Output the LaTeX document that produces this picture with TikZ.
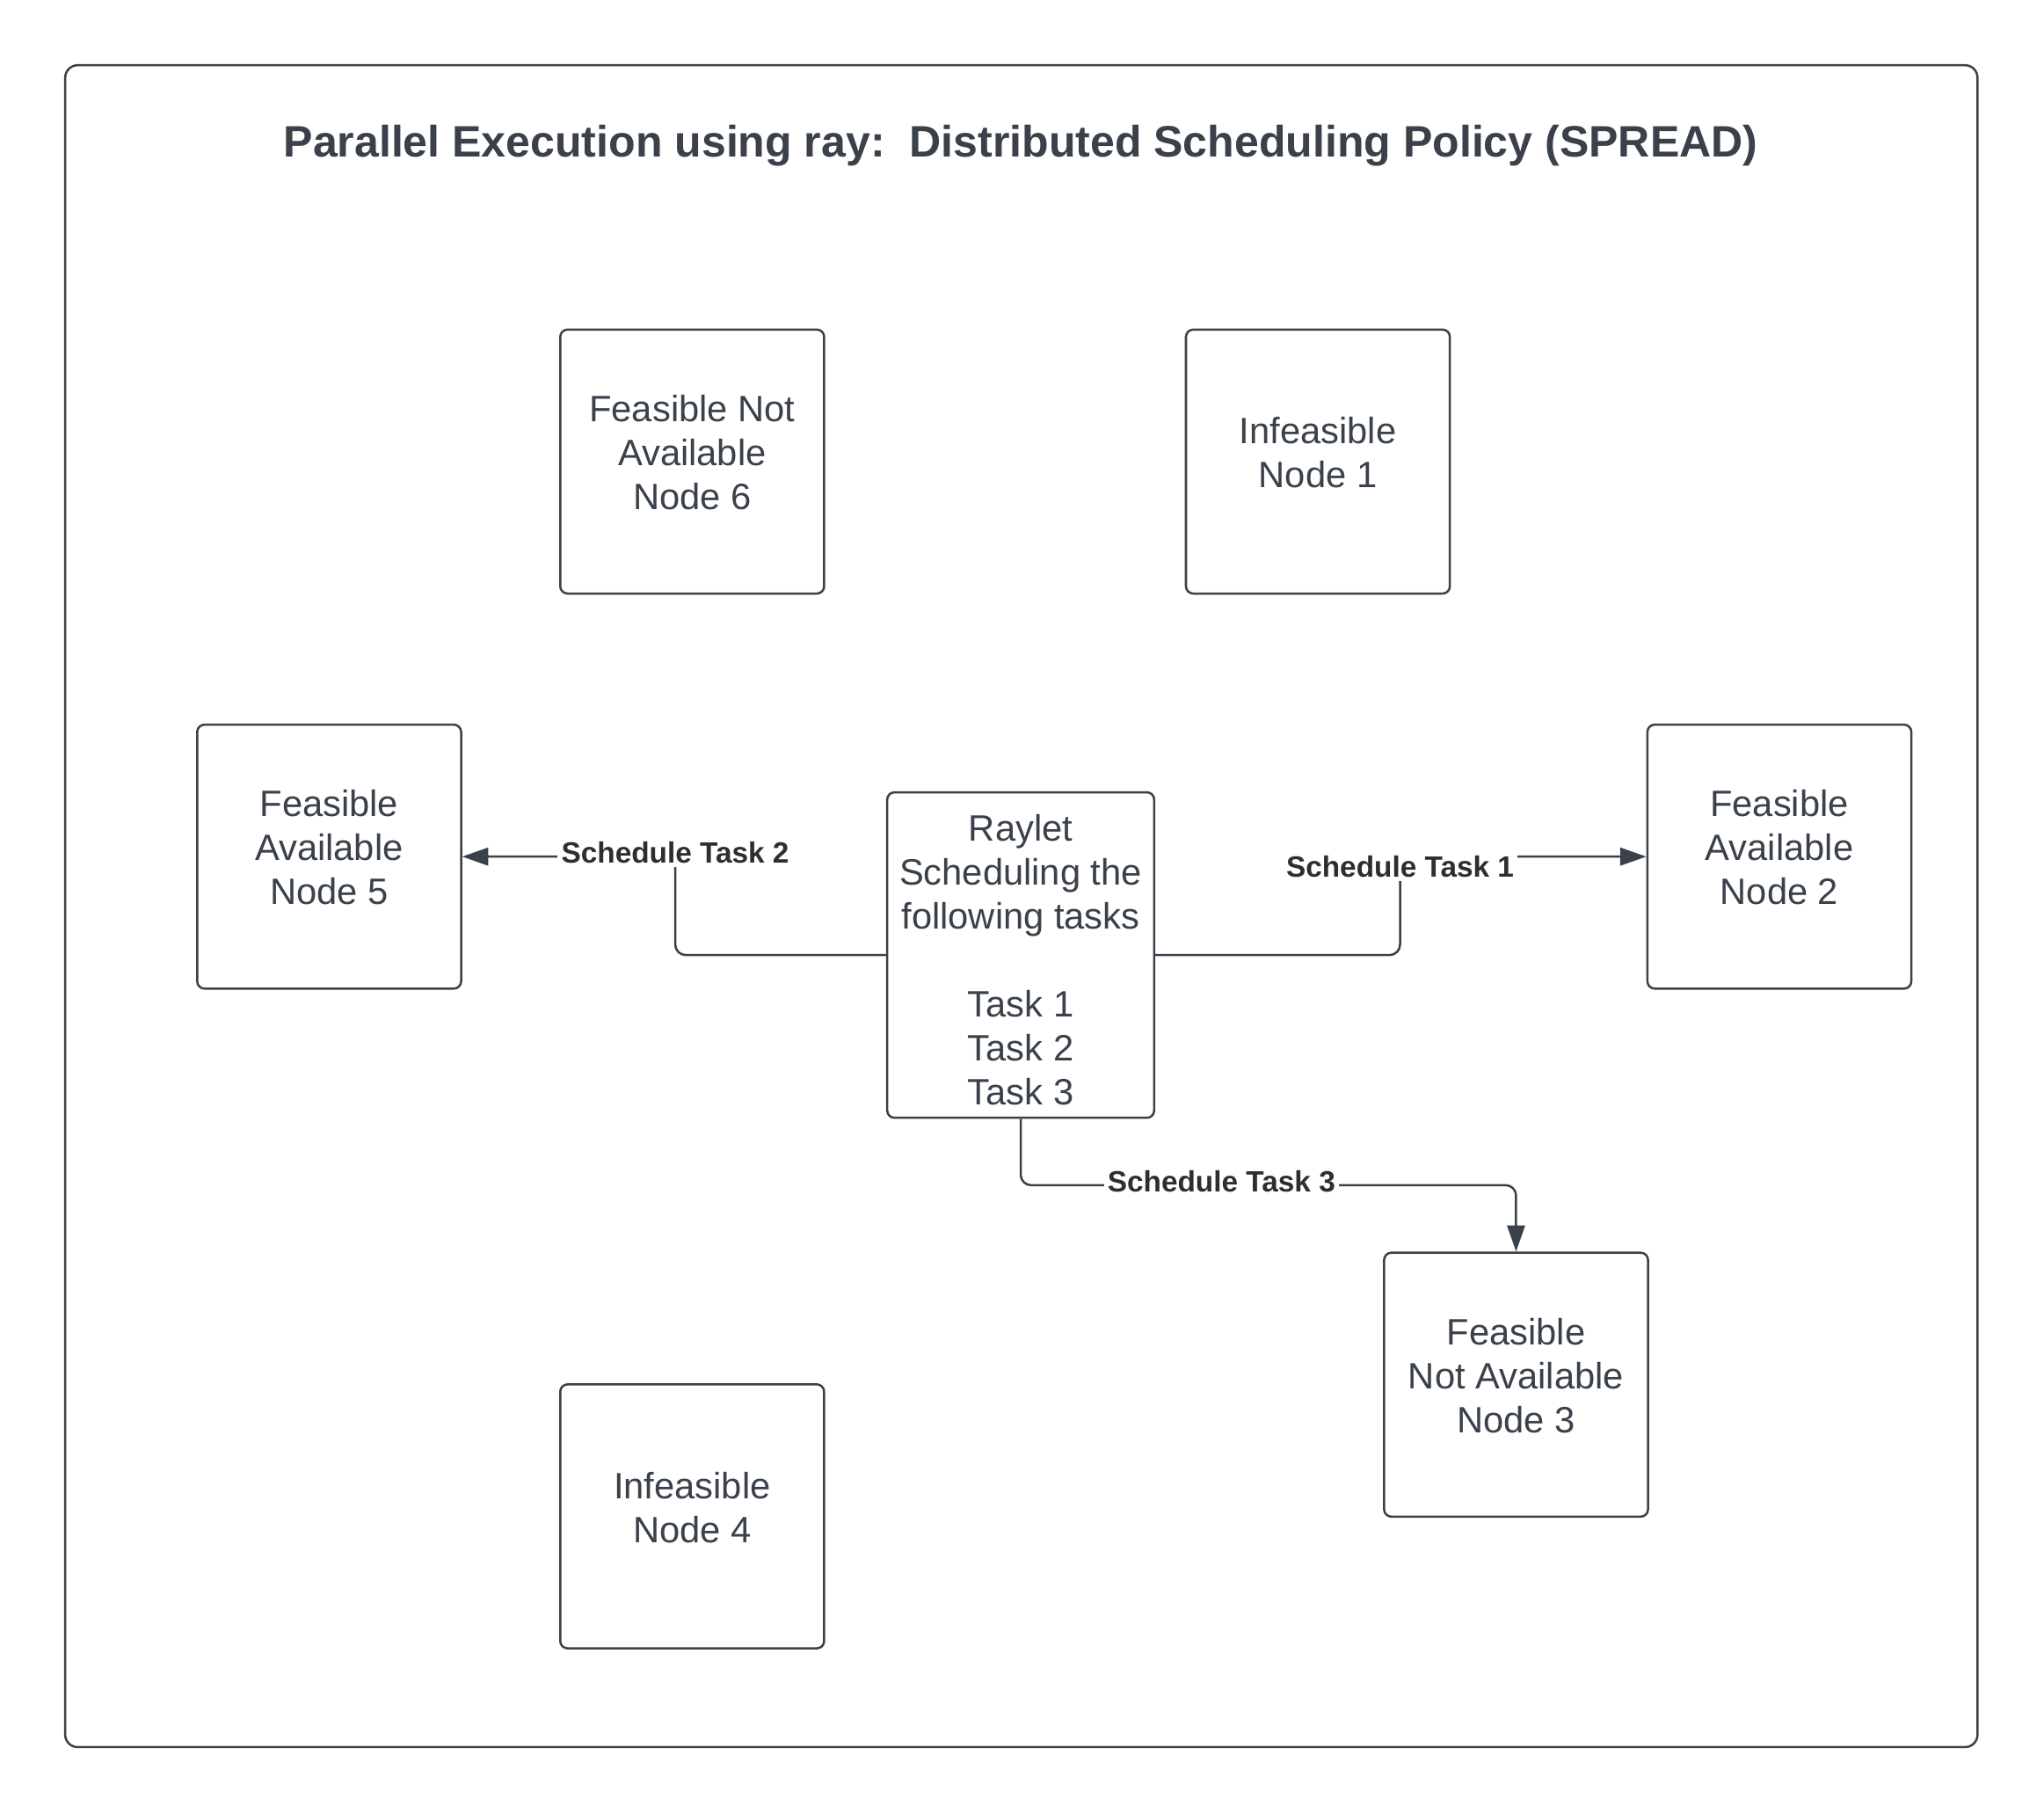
\documentclass[tikz,border=0pt]{standalone}
\usepackage{fontspec}
\setmainfont{Liberation Sans}
\usetikzlibrary{shapes,arrows.meta,calc}
\definecolor{chartgray}{HTML}{3A414A}
\definecolor{labelgray}{HTML}{2E2E2E}
\def\boxsize{2.53cm}
\def\rayheight{3.11cm}

\begin{document}
\begin{tikzpicture}[
            x=0.0125cm, y=-0.0125cm,
            frame/.style={%
                line width=0.6pt, draw=chartgray, rounded corners=1.2mm%
            },
            process/.style={%
                line width=0.6pt, rectangle, rounded corners=0.7mm,%
                minimum width=\boxsize, minimum height=\boxsize,%
                align=center, draw=chartgray, fill=white, text=chartgray,%
                font=\fontsize{10}{12}\selectfont, text depth=5pt%
            },
            raylet/.style={%
                line width=0.6pt, rectangle, rounded corners=0.7mm,%
                minimum width=\boxsize, minimum height=\rayheight,%
                align=center, draw=chartgray, fill=white, text=chartgray,%
                font=\fontsize{10}{12}\selectfont%
            },
            tasklabel/.style={%
                fill=white, inner sep=1pt, text=labelgray,%
                font=\fontsize{8}{9.6}\selectfont\bfseries%
            },
            arrow/.style={line width=0.6pt, draw=chartgray, rounded corners=1mm,%
                -{Triangle[length=2.5mm,width=1.7mm]}}
        ]

        \useasboundingbox (0,0) rectangle (1568,1391);
        \draw [frame] (50,50) rectangle (1517,1340);

        % Define nodes
        \node (title) [text=chartgray, font=\fontsize{12}{14}\selectfont\bfseries]
            at (783,112) {%
            Parallel Execution using ray:\ \ Distributed Scheduling Policy (SPREAD)
        };
        \node (node6) [process] at (531,354) {
            Feasible Not\\
            Available\\
            Node 6
        };
        \node (node1) [process] at (1011,354) {
            Infeasible\\
            Node 1
        };
        \node (node5) [process] at (252.5,657) {
            Feasible\\
            Available\\
            Node 5
        };
        \node (node2) [process] at (1365,657) {
            Feasible\\
            Available\\
            Node 2
        };
        \node (raylet) [raylet] at (783,732.5) {
            \rule{0pt}{10pt}Raylet\\
            Scheduling the\\
            following tasks\\[12pt]
            Task 1\\
            Task 2\\
            Task 3
        };
        \node (node3) [process] at (1163,1062) {
            Feasible\\
            Not Available\\
            Node 3
        };
        \node (node4) [process] at (531,1163) {
            Infeasible\\
            Node 4
        };

        \coordinate (bend_2) at (518,657);
        \coordinate (bend_1) at (1074,657);
        \coordinate (bend_3) at (1163,909);

        \draw [arrow] (raylet.west) -| (bend_2) -- (node5.east);
        \draw [arrow] (raylet.east) -| (bend_1) -- (node2.west);
        \draw [arrow] (raylet.south) |- (bend_3) -- (node3.north);

        \node (task_2) [tasklabel] at (518,654) {Schedule Task 2};
        \node (task_1) [tasklabel] at (1074,665) {Schedule Task 1};
        \node (task_3) [tasklabel] at (937,906) {Schedule Task 3};

        \end{tikzpicture}
\end{document}
